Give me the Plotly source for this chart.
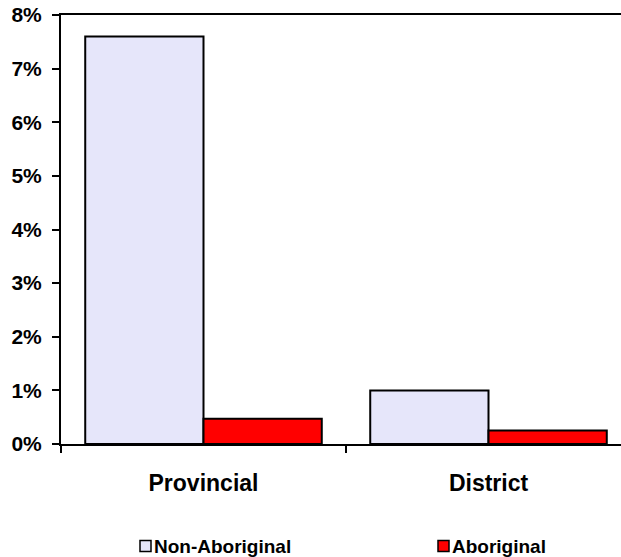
import plotly.graph_objects as go

categories = ["Provincial", "District"]
series_names = ["Non-Aboriginal", "Aboriginal"]
non_aboriginal = [0.076, 0.010]
aboriginal = [0.0047, 0.0025]
series_colors = ["#E6E6FA", "#FF0000"]

W, H = 621, 557
L, R, T, B = 61, 0, 15, 113
plot_w = W - L - R
plot_h = H - T - B

font_family = "Arial, 'Liberation Sans', sans-serif"

fig = go.Figure()
for name, vals, col in zip(series_names, [non_aboriginal, aboriginal], series_colors):
    fig.add_trace(go.Bar(
        x=categories, y=vals, name=name,
        marker=dict(color=col, line=dict(color="black", width=2)),
        showlegend=False,
    ))

# Legend drawn as boxed swatches with labels below the plot
legend_x = [140, 438]
legend_y = 546
sq = 11
for name, col, lx in zip(series_names, series_colors, legend_x):
    x0 = (lx - L) / plot_w
    x1 = (lx + sq - L) / plot_w
    y0 = (T + plot_h - (legend_y + sq / 2)) / plot_h
    y1 = (T + plot_h - (legend_y - sq / 2)) / plot_h
    fig.add_shape(type="rect", xref="paper", yref="paper",
                  x0=x0, x1=x1, y0=y0, y1=y1,
                  fillcolor=col, line=dict(color="black", width=1.5))
    fig.add_annotation(text=name, xref="paper", yref="paper",
                       x=(lx + sq + 1 - L) / plot_w,
                       y=(T + plot_h - legend_y) / plot_h,
                       xanchor="left", yanchor="middle", showarrow=False,
                       font=dict(family=font_family, size=19, color="black", weight="bold"))

fig.update_layout(
    width=W, height=H,
    margin=dict(l=L, r=R, t=T, b=B, pad=0),
    paper_bgcolor="white", plot_bgcolor="white",
    barmode="group", bargap=0.17, bargroupgap=0,
    font=dict(family=font_family, color="black", weight="bold"),
    xaxis=dict(
        range=[-0.5, -0.5 + plot_w / 285.0],
        showline=True, linecolor="black", linewidth=2, mirror=True,
        ticks="outside", ticklen=7, tickwidth=2, tickcolor="black",
        tickson="boundaries", ticklabelstandoff=17,
        tickfont=dict(size=23, family=font_family, weight="bold"),
        showgrid=False, zeroline=False,
    ),
    yaxis=dict(
        range=[0, 0.08], dtick=0.01, tickformat=".0%",
        showline=True, linecolor="black", linewidth=2,
        ticks="outside", ticklen=7, tickwidth=2, tickcolor="black",
        ticklabelstandoff=6,
        tickfont=dict(size=21, family=font_family, weight="bold"),
        showgrid=False, zeroline=False,
    ),
)

fig.write_html("out.html")
